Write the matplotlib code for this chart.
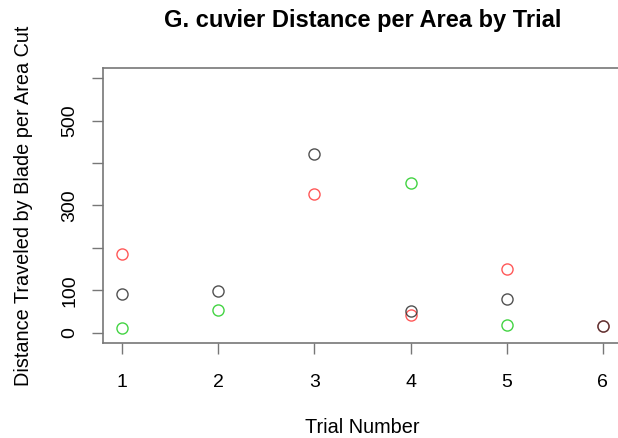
import matplotlib.pyplot as plt

plt.rcParams['font.family'] = ['Liberation Sans', 'DejaVu Sans']

trials = [1, 2, 3, 4, 5, 6]
# three series per trial (black, red, green); None = not shown
black_vals = [91, 98, 422, 52, 80, 16]
red_vals = [185, None, 327, 42, 150, 16]
green_vals = [12, 54, None, 353, 19, None]

yticks = [0, 100, 200, 300, 400, 500, 600]
ylabels = ['0', '100', '', '300', '', '500', '']


def pts(vals):
    xs = [t for t, v in zip(trials, vals) if v is not None]
    ys = [v for v in vals if v is not None]
    return xs, ys


fig = plt.figure(figsize=(6.18, 4.38), dpi=100)
ax = fig.add_axes([103 / 618, 95 / 438, 519 / 618, 275 / 438])

for vals, col in [(red_vals, '#ff3b3b'), (green_vals, '#22cc22'), (black_vals, '#333333')]:
    xs, ys = pts(vals)
    ax.plot(xs, ys, 'o', mfc='none', mec=col, ms=8, mew=1.0, alpha=0.85)

ax.set_xlim(0.8, 6.2)
ax.set_ylim(-24, 624)
ax.set_xticks(trials)
ax.set_yticks(yticks)
ax.set_yticklabels(ylabels, rotation=90, va='center')

for s in ax.spines.values():
    s.set_color('#777777')
    s.set_linewidth(1.2)
ax.tick_params(colors='#777777', labelcolor='black', length=8, width=1.0,
               labelsize=14)
ax.tick_params(axis='x', pad=14)
ax.tick_params(axis='y', pad=10)

ax.set_xlabel('Trial Number', fontsize=14.3, labelpad=20)
ax.set_ylabel('Distance Traveled by Blade per Area Cut', fontsize=14.3, labelpad=20)
fig.suptitle('G. cuvier Distance per Area by Trial', fontsize=17,
             fontweight='bold', x=362.5 / 618, y=1 - 21 / 438, va='center')

fig.savefig('out.png', dpi=100)
